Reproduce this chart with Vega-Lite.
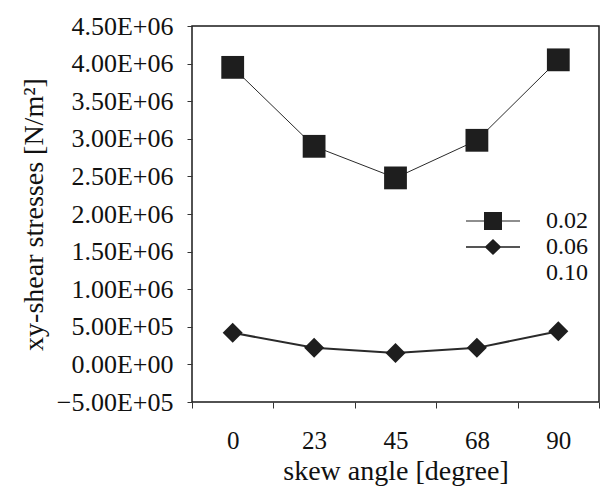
{
  "$schema": "https://vega.github.io/schema/vega-lite/v6.json",
  "width": 407,
  "height": 376,
  "autosize": "none",
  "padding": {"left": 192, "top": 26, "right": 3, "bottom": 92},
  "background": "white",
  "config": {
    "font": "Liberation Serif",
    "view": {"stroke": "#1a1a1a", "strokeWidth": 1.5},
    "axis": {
      "labelFont": "Liberation Serif",
      "titleFont": "Liberation Serif",
      "labelColor": "#111",
      "titleColor": "#111",
      "titleFontWeight": "normal",
      "domain": false,
      "grid": false,
      "tickColor": "#333"
    }
  },
  "data": {
    "values": [
      {"angle": "0", "series": "0.02", "stress": 3950000},
      {"angle": "23", "series": "0.02", "stress": 2900000},
      {"angle": "45", "series": "0.02", "stress": 2480000},
      {"angle": "68", "series": "0.02", "stress": 2980000},
      {"angle": "90", "series": "0.02", "stress": 4050000},
      {"angle": "0", "series": "0.06", "stress": 420000},
      {"angle": "23", "series": "0.06", "stress": 220000},
      {"angle": "45", "series": "0.06", "stress": 150000},
      {"angle": "68", "series": "0.06", "stress": 220000},
      {"angle": "90", "series": "0.06", "stress": 440000}
    ]
  },
  "encoding": {
    "x": {
      "field": "angle",
      "type": "ordinal",
      "sort": ["0", "23", "45", "68", "90"],
      "scale": {"type": "band", "paddingInner": 0, "paddingOuter": 0},
      "axis": {
        "title": "skew angle [degree]",
        "labelAngle": 0,
        "labelFontSize": 25,
        "titleFontSize": 28,
        "tickBand": "extent",
        "tickSize": 6,
        "labelPadding": 20,
        "titlePadding": 4
      }
    },
    "y": {
      "field": "stress",
      "type": "quantitative",
      "scale": {"domain": [-500000, 4500000], "nice": false, "zero": false},
      "axis": {
        "title": "xy-shear stresses [N/m²]",
        "values": [-500000, 0, 500000, 1000000, 1500000, 2000000, 2500000, 3000000, 3500000, 4000000, 4500000],
        "labelExpr": "replace(upper(format(datum.value, '.2e')), '+', '+0')",
        "labelFontSize": 26,
        "titleFontSize": 28,
        "tickSize": 5,
        "labelPadding": 14,
        "titlePadding": 8
      }
    }
  },
  "layer": [
    {
      "mark": {"type": "line", "color": "#2a2a2a"},
      "encoding": {
        "detail": {"field": "series"},
        "strokeWidth": {
          "field": "series",
          "type": "nominal",
          "scale": {"domain": ["0.02", "0.06"], "range": [1, 2]},
          "legend": null
        }
      }
    },
    {
      "transform": [{"filter": "datum.series === '0.02'"}],
      "mark": {"type": "point", "filled": true, "opacity": 1, "color": "#1e1e1e", "shape": "square", "size": 520}
    },
    {
      "transform": [{"filter": "datum.series === '0.06'"}],
      "mark": {"type": "point", "filled": true, "opacity": 1, "color": "#1e1e1e", "shape": "diamond", "size": 400}
    },
    {
      "mark": {"type": "point", "filled": true, "opacity": 0, "color": "#1e1e1e"},
      "encoding": {
        "shape": {
          "field": "series",
          "type": "nominal",
          "scale": {
            "domain": ["0.02", "0.06", "0.10"],
            "range": [
              "M-3,-0.05H-1V0.05H-3Z M1,-0.05H3V0.05H1Z M-1,-1H1V1H-1Z",
              "M-3,-0.08H-0.84L0,-0.9L0.84,-0.08H3V0.08H0.84L0,0.9L-0.84,0.08H-3Z",
              "M0,0"
            ]
          },
          "legend": {
            "orient": "none",
            "legendX": 289,
            "legendY": 183,
            "title": null,
            "labelFontSize": 24,
            "labelFont": "Liberation Serif",
            "labelColor": "#111",
            "symbolSize": 324,
            "symbolFillColor": "#1e1e1e",
            "symbolStrokeColor": "#1e1e1e",
            "symbolStrokeWidth": 1,
            "symbolOpacity": 1,
            "labelOffset": 41,
            "rowPadding": 2,
            "padding": 0
          }
        }
      }
    }
  ]
}
